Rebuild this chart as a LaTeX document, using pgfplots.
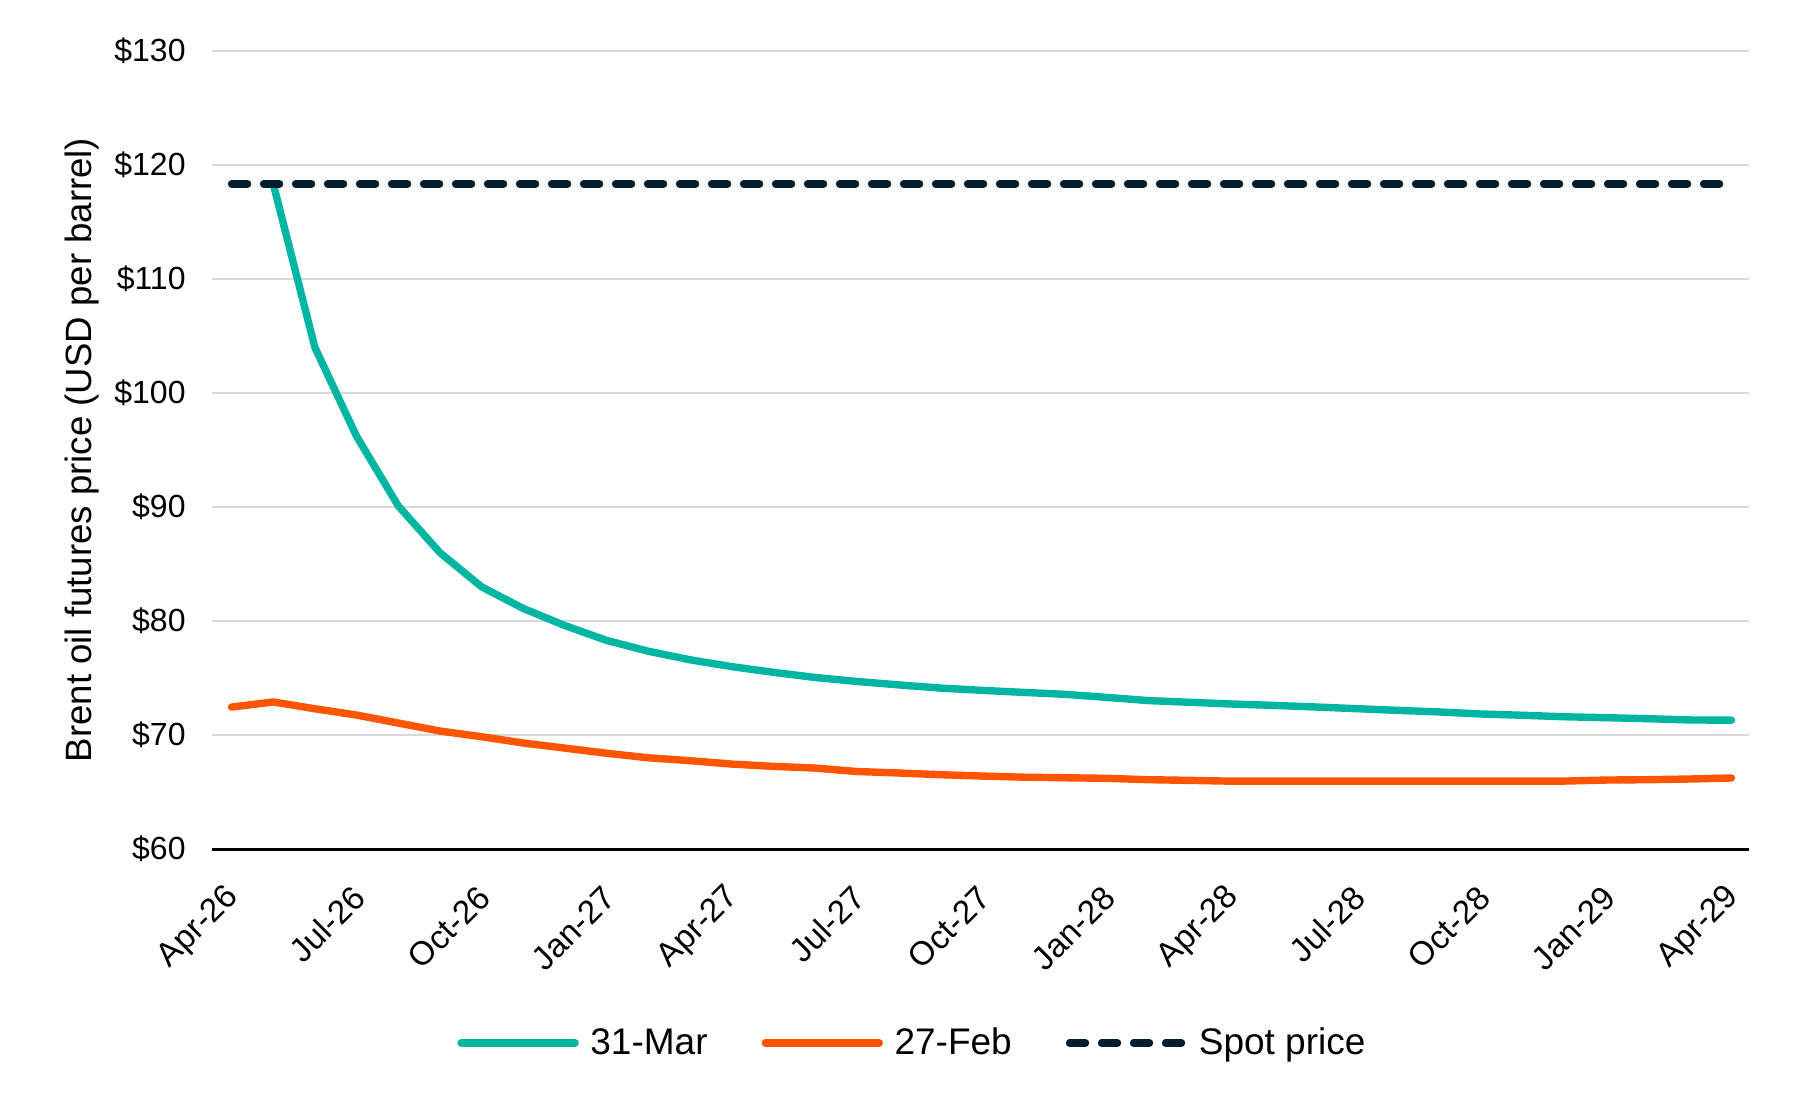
\documentclass[border=0pt]{standalone}
\usepackage{fontspec}
\setmainfont{Liberation Sans}
\usepackage{pgfplots}
\pgfplotsset{compat=1.18}
\definecolor{teal1}{RGB}{0,181,161}
\definecolor{orange1}{RGB}{255,85,0}
\definecolor{navy1}{RGB}{0,30,46}
\definecolor{grid1}{RGB}{217,217,217}
\begin{document}
\begin{tikzpicture}
\path[use as bounding box] (-106pt,-128pt) rectangle (797pt,424.5pt);
\begin{axis}[
  at={(0pt,0pt)}, anchor=south west,
  scale only axis, width=768.5pt, height=399pt,
  xmin=-0.47, xmax=36.42, ymin=60, ymax=130,
  clip=false,
  no markers,
  axis x line*=bottom, axis y line*=left,
  x axis line style={black, line width=1.5pt, -},
  y axis line style={draw=none},
  xtick={0,3,...,36},
  xticklabels={Apr-26,Jul-26,Oct-26,Jan-27,Apr-27,Jul-27,Oct-27,Jan-28,Apr-28,Jul-28,Oct-28,Jan-29,Apr-29},
  ytick={60,70,...,130},
  yticklabels={\$60,\$70,\$80,\$90,\$100,\$110,\$120,\$130},
  major tick length=0pt,
  ymajorgrids, grid style={grid1, line width=1pt},
  xticklabel style={font=\fontsize{16.6}{19}\selectfont, xshift=1.5pt, yshift=-21.5pt, rotate=45, anchor=east, inner sep=0pt},
  yticklabel style={font=\fontsize{16}{19}\selectfont, anchor=east, inner sep=0pt, xshift=-13pt},
  ylabel={Brent oil futures price (USD per barrel)},
  every axis y label/.style={at={(rel axis cs:0,0.5)}, xshift=-64.75pt, rotate=90, anchor=center, font=\fontsize{18.3}{22}\selectfont},
  legend columns=3,
  legend style={at={(0.457,-0.243)}, anchor=center, draw=none, fill=none,
    font=\fontsize{18.5}{22}\selectfont,
    /tikz/every even column/.append style={column sep=24pt},
    /tikz/every odd column/.append style={column sep=2.8pt},
    nodes={inner sep=3pt}},
  legend cell align=left,
  legend image code/.code={\draw[#1, line cap=round] (0pt,0pt) -- (57pt,0pt);},
]
\addplot[teal1, line width=3.7pt, line join=round, line cap=round] coordinates {
(1,118.35) (2,104.0) (3,96.2) (4,90.1) (5,86.0) (6,83.0) (7,81.1) (8,79.6)
(9,78.3) (10,77.35) (11,76.6) (12,76.0) (13,75.5) (14,75.05) (15,74.7) (16,74.4)
(17,74.12) (18,73.92) (19,73.74) (20,73.57) (21,73.3) (22,73.02) (23,72.87) (24,72.72)
(25,72.6) (26,72.46) (27,72.31) (28,72.16) (29,72.02) (30,71.84) (31,71.73) (32,71.6)
(33,71.52) (34,71.43) (35,71.32) (36,71.3)
};
\addlegendentry{31-Mar}
\addplot[orange1, line width=3.7pt, line join=round, line cap=round] coordinates {
(0,72.45) (1,72.9) (2,72.3) (3,71.75) (4,71.05) (5,70.35) (6,69.85) (7,69.3)
(8,68.85) (9,68.4) (10,68.0) (11,67.75) (12,67.45) (13,67.25) (14,67.1) (15,66.8)
(16,66.67) (17,66.52) (18,66.4) (19,66.3) (20,66.25) (21,66.2) (22,66.08) (23,66.02)
(24,65.95) (25,65.95) (26,65.95) (27,65.95) (28,65.95) (29,65.95) (30,65.95) (31,65.95)
(32,65.96) (33,66.05) (34,66.08) (35,66.14) (36,66.23)
};
\addlegendentry{27-Feb}
\addplot[navy1, line width=3.7pt, line cap=round, dash pattern=on 8pt off 8pt] coordinates {
(0,118.35) (36,118.35)
};
\addlegendentry{Spot price}
\end{axis}
\end{tikzpicture}
\end{document}
